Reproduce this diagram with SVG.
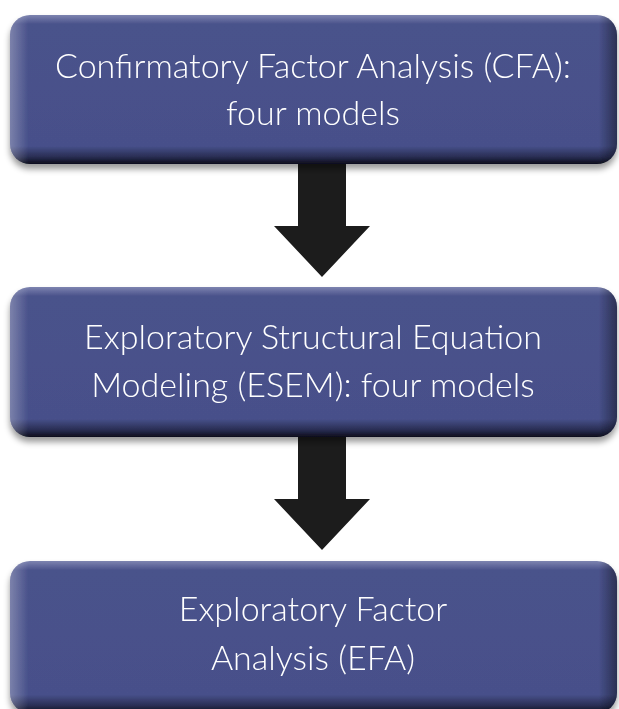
<svg xmlns="http://www.w3.org/2000/svg" width="619" height="709" viewBox="0 0 619 709">
<defs>
<linearGradient id="gv" x1="0" y1="0" x2="0" y2="1">
<stop offset="0" stop-color="#7d84b0"/>
<stop offset="0.06" stop-color="#4a528b"/>
<stop offset="0.88" stop-color="#47508a"/>
<stop offset="0.95" stop-color="#2a2f55"/>
<stop offset="1" stop-color="#0c0e1c"/>
</linearGradient>
<linearGradient id="gh" x1="0" y1="0" x2="1" y2="0">
<stop offset="0" stop-color="#ffffff" stop-opacity="0.28"/>
<stop offset="0.03" stop-color="#ffffff" stop-opacity="0"/>
<stop offset="0.97" stop-color="#000000" stop-opacity="0"/>
<stop offset="1" stop-color="#000000" stop-opacity="0.4"/>
</linearGradient>
<filter id="sh" x="-5%" y="-10%" width="110%" height="130%">
<feGaussianBlur in="SourceAlpha" stdDeviation="3"/>
<feOffset dy="5" result="b"/>
<feFlood flood-color="#000" flood-opacity="0.4"/>
<feComposite in2="b" operator="in"/>
<feMerge><feMergeNode/><feMergeNode in="SourceGraphic"/></feMerge>
</filter>
</defs>
<style>
.box{fill:url(#gv);}
.hl{fill:url(#gh);}
.t{font-family:Lato,"Open Sans","Liberation Sans",sans-serif;font-weight:300;font-size:34px;fill:#ffffff;text-anchor:middle;}
.arr{fill:#1c1c1c;}
</style>
<g id="connectors">
<path class="arr" d="M298 160 H346 V226 H370 L322 277 L274 226 H298 Z"/>
<path class="arr" d="M298 432 H346 V499 H370 L322 550 L274 499 H298 Z"/>
</g>
<g id="node-cfa" filter="url(#sh)">
<rect class="box" x="10" y="15" width="607" height="149" rx="20"/>
<rect class="hl" x="10" y="15" width="607" height="149" rx="20"/>
<text class="t" x="313" y="78">Confirmatory Factor Analysis (CFA):</text>
<text class="t" x="313" y="125">four models</text>
</g>
<g id="node-esem" filter="url(#sh)">
<rect class="box" x="10" y="287" width="607" height="150" rx="20"/>
<rect class="hl" x="10" y="287" width="607" height="150" rx="20"/>
<text class="t" x="313" y="349">Exploratory Structural Equation</text>
<text class="t" x="313" y="397">Modeling (ESEM): four models</text>
</g>
<g id="node-efa" filter="url(#sh)">
<rect class="box" x="10" y="561" width="607" height="152" rx="20"/>
<rect class="hl" x="10" y="561" width="607" height="152" rx="20"/>
<text class="t" x="313" y="621">Exploratory Factor</text>
<text class="t" x="313" y="670">Analysis (EFA)</text>
</g>
</svg>
